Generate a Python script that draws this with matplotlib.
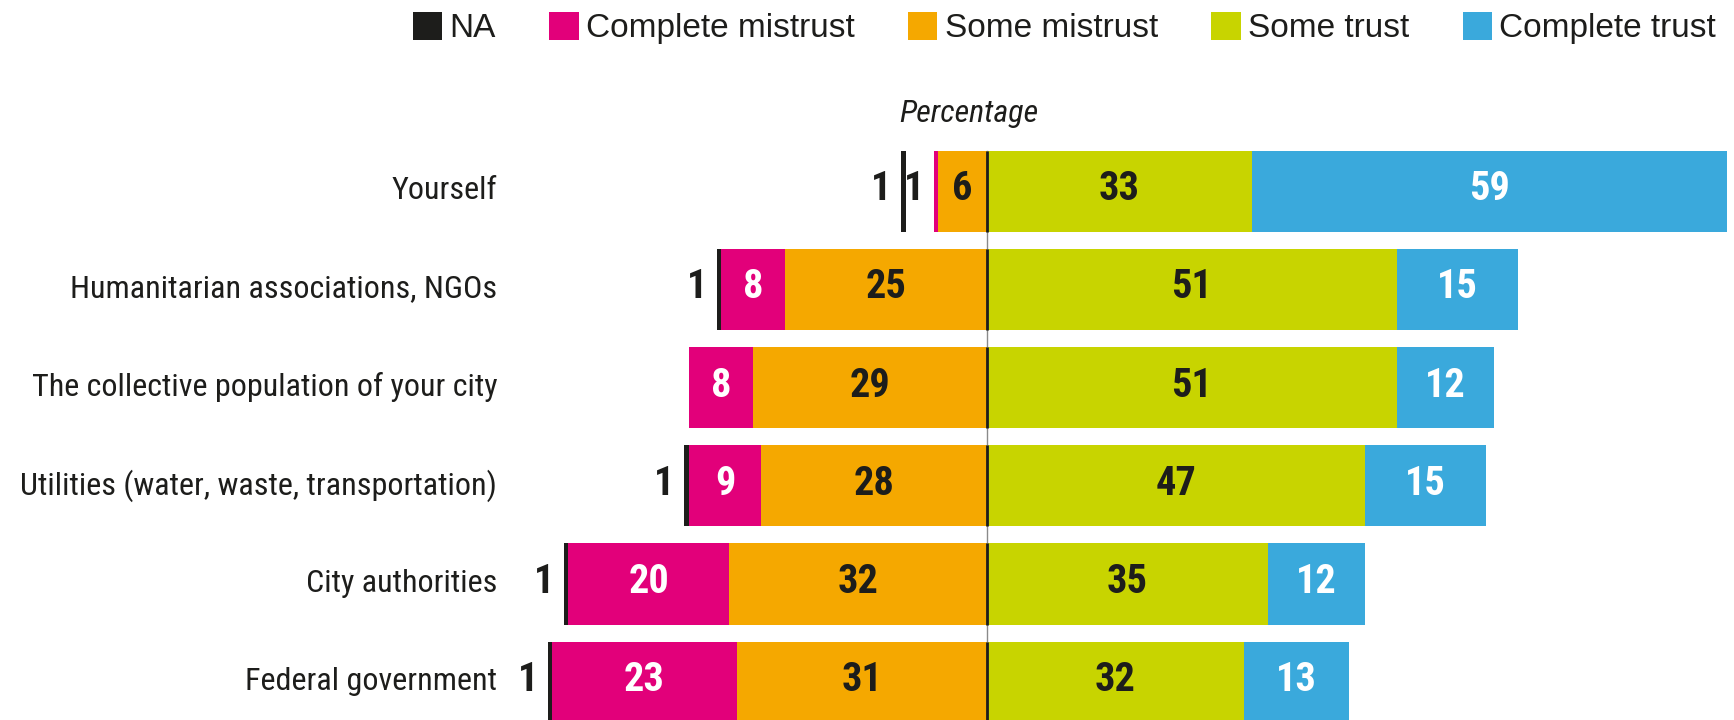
import numpy as np
import matplotlib
matplotlib.use("Agg")
import matplotlib.pyplot as plt
from matplotlib import font_manager
from matplotlib.patches import Patch
from matplotlib.transforms import ScaledTranslation

categories = ["Yourself", "Humanitarian associations, NGOs",
              "The collective population of your city",
              "Utilities (water, waste, transportation)",
              "City authorities", "Federal government"]
na = [1, 1, 0, 1, 1, 1]
complete_mistrust = [1, 8, 8, 9, 20, 23]
some_mistrust = [6, 25, 29, 28, 32, 31]
some_trust = [33, 51, 51, 47, 35, 32]
complete_trust = [59, 15, 12, 15, 12, 13]

legend_labels = ["NA", "Complete mistrust", "Some mistrust", "Some trust", "Complete trust"]
colors = ["#1d1d1b", "#e2007a", "#f5a800", "#c8d400", "#3aa9dc"]
text_colors = ["#1d1d1b", "white", "#1d1d1b", "#1d1d1b", "white"]

THIN = 0.55        # drawn width for tiny (1%) segments
LABEL_GAP = 3.5    # room for an outside label between two tiny segments
BAR_H = 0.825
DY = -0.02         # digits sit a touch above bar centre


def pick(*names):
    avail = {f.name for f in font_manager.fontManager.ttflist}
    for n in names:
        if n in avail:
            return n
    return "DejaVu Sans"


NARROW = pick("Liberation Sans Narrow", "Roboto Condensed", "Liberation Sans", "DejaVu Sans")
REGULAR = pick("Liberation Sans", "DejaVu Sans")

fig = plt.figure(figsize=(17.34, 7.2), dpi=100)
ax = fig.add_axes([0.3, 0.0, 0.7, 620 / 720])

px_per_unit = 8.05
center_px = 986.5
ax.set_xlim((520 - center_px) / px_per_unit, (1734 - center_px) / px_per_unit)
ax.set_ylim(5 + (720 - 682.2) / 98.2, -(191.2 - 100) / 98.2)

num_style = dict(family=NARROW, fontsize=29, fontweight="bold", va="center")

for i in range(len(categories)):
    # right side
    ax.barh(i, some_trust[i], left=0, height=BAR_H, color=colors[3], lw=0)
    ax.barh(i, complete_trust[i], left=some_trust[i], height=BAR_H, color=colors[4], lw=0)
    ax.text(some_trust[i] / 2, i + DY, str(some_trust[i]), color=text_colors[3], ha="center", **num_style)
    ax.text(some_trust[i] + complete_trust[i] / 2, i + DY, str(complete_trust[i]),
            color=text_colors[4], ha="center", **num_style)

    # left side
    ax.barh(i, -some_mistrust[i], left=0, height=BAR_H, color=colors[2], lw=0)
    ax.text(-some_mistrust[i] / 2, i + DY, str(some_mistrust[i]), color=text_colors[2], ha="center", **num_style)
    cursor = -some_mistrust[i]
    cm = complete_mistrust[i]
    if cm > 1:
        ax.barh(i, -cm, left=cursor, height=BAR_H, color=colors[1], lw=0)
        ax.text(cursor - cm / 2, i + DY, str(cm), color=text_colors[1], ha="center", **num_style)
        cursor -= cm
    else:
        ax.barh(i, -THIN, left=cursor, height=BAR_H, color=colors[1], lw=0)
        cursor -= THIN
        ax.text(cursor - 1.2, i + DY, str(cm), color="#1d1d1b", ha="right", **num_style)
        cursor -= LABEL_GAP
    if na[i] > 0:
        ax.barh(i, -THIN, left=cursor, height=BAR_H, color=colors[0], lw=0)
        cursor -= THIN
        ax.text(cursor - 1.2, i + DY, str(na[i]), color="#1d1d1b", ha="right", **num_style)

# centre line: grey between bars, dark inside bars
ypos = np.arange(len(categories))
ax.plot([0, 0], [-BAR_H / 2, ax.get_ylim()[0]], color="#8a8a8a", lw=1, zorder=3)
ax.vlines(np.zeros(len(ypos)), ypos - BAR_H / 2, ypos + BAR_H / 2, color="#1d1d1b", lw=2, zorder=4)

ax.set_yticks(ypos)
labels = ax.set_yticklabels(categories, family=NARROW, fontsize=25, color="#1d1d1b")
ax.tick_params(axis="y", length=0, pad=16.5)
ax.set_xticks([])
for s in ax.spines.values():
    s.set_visible(False)

# shrink the category labels so the longest one is ~480 px wide, as in the original
renderer = fig.canvas.get_renderer()
widest = max(t.get_window_extent(renderer).width for t in labels)
lift = ScaledTranslation(0, 4 / 100, fig.dpi_scale_trans)
for t in labels:
    t.set_fontsize(25 * min(1.0, 480 / widest))
    t.set_transform(t.get_transform() + lift)

fig.text(969 / 1734, 1 - 113 / 720, "Percentage", family=NARROW, style="italic",
         fontsize=23, color="#1d1d1b", ha="center", va="center")

handles = [Patch(facecolor=c, edgecolor="none") for c in colors]
leg = fig.legend(handles, legend_labels, loc="center right", bbox_to_anchor=(1716 / 1734, 1 - 28 / 720),
                 ncol=5, frameon=False, prop={"family": REGULAR, "size": 24},
                 handlelength=0.88, handleheight=0.9, handletextpad=0.22, columnspacing=1.6,
                 borderaxespad=0, borderpad=0)
for t in leg.get_texts():
    t.set_color("#1d1d1b")

fig.savefig("out.png", dpi=100)
